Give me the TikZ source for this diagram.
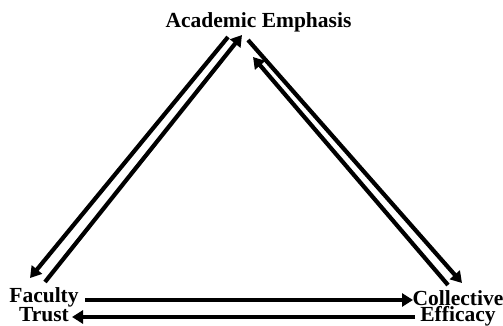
\documentclass[tikz,border=0pt]{standalone}
\usepackage{fontspec}
\setmainfont{Liberation Serif}
\usetikzlibrary{arrows.meta}
\tikzset{
  rotulo/.style={font=\fontsize{21.5}{16}\selectfont\bfseries,align=center,inner sep=0pt,anchor=base},
  flecha/.style={-{Triangle[length=11pt,width=13pt]},line width=4.2pt},
}
\begin{document}
\begin{tikzpicture}[x=1pt,y=1pt]
  \useasboundingbox (0,0) rectangle (503,326);
  \node[rotulo] (ae) at (258.5,298) {Academic Emphasis};
  \node[rotulo] (ft) at (44,4) {Faculty\\Trust};
  \node[rotulo] (ce) at (458,4) {Collective\\Efficacy};
  % lado izquierdo
  \draw[flecha] ([shift={(-30.5,-9)}]ae.base) -- ([shift={(-14,44)}]ft.base);
  \draw[flecha] ([shift={(1,40)}]ft.base) -- ([shift={(-16.5,-7)}]ae.base);
  % lado derecho
  \draw[flecha] ([shift={(-10.5,-12)}]ae.base) -- ([shift={(4,39)}]ce.base);
  \draw[flecha] ([shift={(-10,37)}]ce.base) -- ([shift={(-5.5,-29)}]ae.base);
  % abajo
  \draw[flecha] ([shift={(41,22)}]ft.base) -- ([shift={(-45,22)}]ce.base);
  \draw[flecha] ([shift={(-43,5)}]ce.base) -- ([shift={(28,5)}]ft.base);
\end{tikzpicture}
\end{document}
